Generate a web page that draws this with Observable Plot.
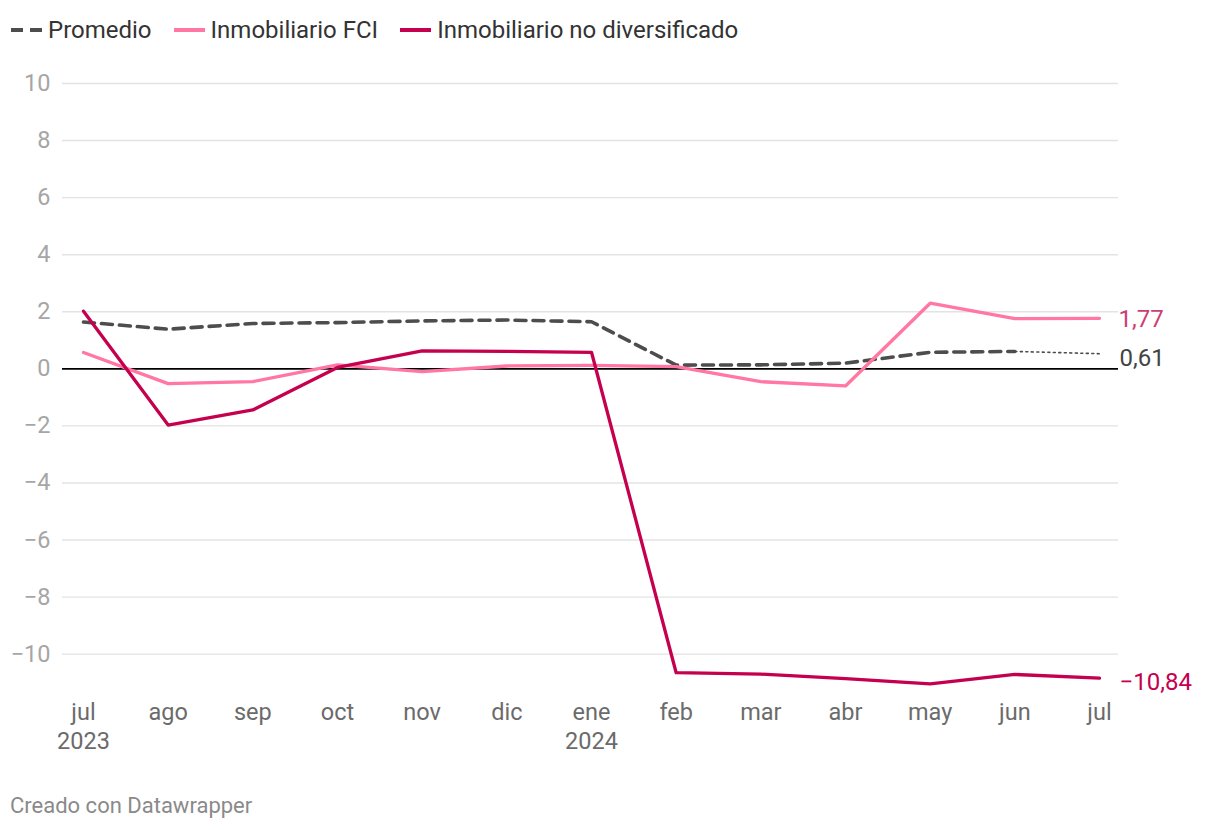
<!DOCTYPE html>
<html><head><meta charset="utf-8">
<script src="https://cdn.jsdelivr.net/npm/d3@7"></script>
<script src="https://cdn.jsdelivr.net/npm/@observablehq/plot@0.6"></script>
<style>
body{margin:0;background:#fff;font-family:Roboto,sans-serif;}
#wrap{position:relative;width:1220px;height:830px;overflow:hidden;}
#legend{position:absolute;left:10px;top:14px;height:32px;display:flex;align-items:center;font-size:24px;color:#333;white-space:nowrap;}
.item{display:flex;align-items:center;margin-right:21px;}
.item svg{margin-right:6px;}
#chart{position:absolute;left:0;top:50px;}
#footer{position:absolute;left:10px;top:793px;font-size:22px;color:#8a8a8a;line-height:26px;}
</style></head>
<body><div id="wrap">
<div id="legend"></div>
<div id="chart"></div>
<div id="footer">Creado con Datawrapper</div>
</div>
<script>
const months = ["jul","ago","sep","oct","nov","dic","ene","feb","mar","abr","may","jun","jul"];
const years  = ["2023","","","","","","2024","","","","","",""];
const promedio = [1.64, 1.39, 1.59, 1.62, 1.68, 1.71, 1.65, 0.13, 0.14, 0.2, 0.58, 0.61, 0.53];
const fci      = [0.57, -0.52, -0.45, 0.14, -0.1, 0.1, 0.12, 0.08, -0.45, -0.6, 2.3, 1.76, 1.77];
const noDiv    = [2.02, -1.97, -1.44, 0.05, 0.63, 0.61, 0.58, -10.65, -10.7, -10.86, -11.04, -10.71, -10.84];
const yTicks = [-10, -8, -6, -4, -2, 0, 2, 4, 6, 8, 10];

const cProm = "#4d4d4d", cFci = "#ff77a2", cNo = "#c4004f";

const legendItems = [
  {name:"Promedio", color:cProm, dash:"11,7"},
  {name:"Inmobiliario FCI", color:cFci, dash:null},
  {name:"Inmobiliario no diversificado", color:cNo, dash:null}
];
const lg = document.getElementById("legend");
for (const it of legendItems) {
  const d = document.createElement("div"); d.className = "item";
  d.innerHTML = `<svg width="32" height="20"><line x1="1" y1="10" x2="32" y2="10" stroke="${it.color}" stroke-width="4" ${it.dash ? 'stroke-dasharray="12,7"' : ''}/></svg><span>${it.name}</span>`;
  lg.appendChild(d);
}

const fmt = v => (v < 0 ? "\u2212" : "") + Math.abs(v).toFixed(2).replace(".", ",");
const idx = d3.range(months.length);
const promSolid = idx.slice(0, 12).map(i => ({i, v: promedio[i]}));
const promDot = idx.slice(11).map(i => ({i, v: promedio[i]}));
const fciData = idx.map(i => ({i, v: fci[i]}));
const noData = idx.map(i => ({i, v: noDiv[i]}));
const last = months.length - 1;

const chart = Plot.plot({
  width: 1220, height: 710,
  marginTop: 33, marginBottom: 77.8, marginLeft: 62, marginRight: 102,
  style: {fontFamily: "Roboto, sans-serif", background: "transparent", overflow: "visible"},
  x: {domain: [0, last], insetLeft: 21, insetRight: 19, label: null},
  y: {domain: [-11, 10], label: null},
  marks: [
    Plot.ruleY(yTicks.filter(d => d !== 0), {stroke: "#e3e3e3", strokeWidth: 1.4}),
    Plot.axisY(yTicks, {anchor: "left", label: null, tickSize: 0, tickPadding: 12, fontSize: 23.5, color: "#a6a6a6",
      tickFormat: d => (d < 0 ? "\u2212" : "") + Math.abs(d)}),
    Plot.axisX(idx, {anchor: "bottom", label: null, tickSize: 0, tickPadding: 16, fontSize: 23.5, color: "#6b6b6b", lineHeight: 1.26,
      tickFormat: i => years[i] ? months[i] + "\n" + years[i] : months[i]}),
    Plot.ruleY([0], {stroke: "#000", strokeWidth: 1.6}),
    Plot.line(promSolid, {x: "i", y: "v", stroke: cProm, strokeWidth: 3.6, strokeDasharray: "11,7"}),
    Plot.line(promDot, {x: "i", y: "v", stroke: cProm, strokeWidth: 1.6, strokeDasharray: "2,3.5"}),
    Plot.line(fciData, {x: "i", y: "v", stroke: cFci, strokeWidth: 3.3}),
    Plot.line(noData, {x: "i", y: "v", stroke: cNo, strokeWidth: 3.3}),
    Plot.text([fciData[last]], {x: "i", y: "v", text: d => fmt(d.v), dx: 19, dy: 1, textAnchor: "start", fontSize: 24, fill: "#cc3f74"}),
    Plot.text([promDot[promDot.length - 1]], {x: "i", y: "v", text: () => fmt(promedio[11]), dx: 20, dy: 5, textAnchor: "start", fontSize: 24, fill: "#444"}),
    Plot.text([noData[last]], {x: "i", y: "v", text: d => fmt(d.v), dx: 20, dy: 4, textAnchor: "start", fontSize: 24, fill: cNo})
  ]
});
document.getElementById("chart").appendChild(chart);
</script>
</body></html>
